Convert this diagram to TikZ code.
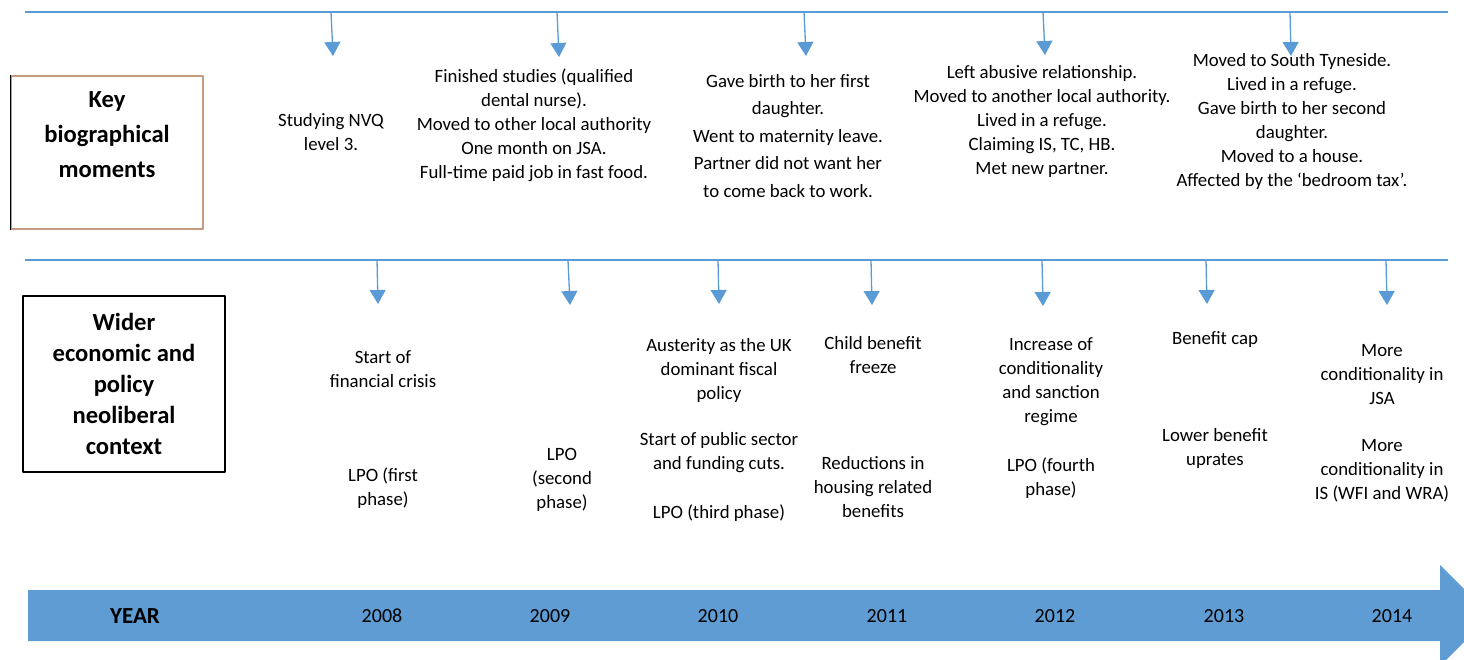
\documentclass[tikz,border=0pt]{standalone}
\usepackage{fontspec}
\setmainfont{Carlito}
\usepackage{tikz}
\usetikzlibrary{
  arrows.meta,  % Triangle tips on the drop arrows
  positioning   % relative placement
}
\definecolor{lineblue}{HTML}{5B9BD5}
\definecolor{bandblue}{HTML}{5E9CD3}
\definecolor{boxtan}{HTML}{C49A80}
\tikzset{
  timeline/.style={
    draw=lineblue,
    line width=1.3pt
  },
  drop arrow/.style={
    -{Triangle[width=16pt,length=14pt]},
    draw=lineblue,
    line width=1.3pt
  },
  event text/.style={
    align=center,
    inner sep=0pt,
    font=\fontsize{18.8}{24}\selectfont
  },
  head box/.style={
    draw,
    line width=1.2pt,
    align=center,
    inner sep=0pt,
    font=\fontsize{24.6}{35}\selectfont\bfseries
  },
  year label/.style={
    inner sep=0pt,
    font=\fontsize{20}{24}\selectfont
  }
}

\begin{document}
\begin{tikzpicture}[x=1pt, y=-1pt, line join=round]
  \useasboundingbox (0,0) rectangle (1464,660);
  \clip (0,0) rectangle (1464,660);

  % ===================================
  % Two timelines
  % ===================================
  \coordinate (bioL) at (25,12);
  \coordinate (bioR) at (1448,12);
  \coordinate (polL) at (25,260);
  \coordinate (polR) at (1448,260);
  \draw[timeline] (bioL) -- (bioR);
  \draw[timeline] (polL) -- (polR);

  % drop arrows: start x / tip x / tip y
  \foreach \xa/\xb/\yb [count=\i] in {331/333/56, 557/559/57, 804/806/56, 1043/1045/55, 1290/1291/56} {
    \coordinate (bio\i s) at (\xa,12);
    \coordinate (bio\i t) at (\xb,\yb);
    \draw[drop arrow] (bio\i s) -- (bio\i t);
  }
  \foreach \xa/\xb/\yb [count=\i] in {377/378/304, 568/570/305, 718/719/304, 871/872/305, 1042/1043/306, 1206/1207/304, 1386/1387/305} {
    \coordinate (pol\i s) at (\xa,260);
    \coordinate (pol\i t) at (\xb,\yb);
    \draw[drop arrow] (pol\i s) -- (pol\i t);
  }

  % ===================================
  % Row headings
  % ===================================
  \node[head box, draw=boxtan, minimum width=192pt, minimum height=153pt] (keybox) at (107,152.5) {Key\\biographical\\moments\\\mbox{}};
  \draw[line width=1.2pt] (keybox.south west) -- (keybox.north west);
  \node[head box, minimum width=202pt, minimum height=176pt, font=\fontsize{24.6}{31}\selectfont\bfseries] (ctxbox) at (124,384) {Wider\\economic and\\policy\\neoliberal\\context};

  % ===================================
  % Key biographical moments
  % ===================================
  \node[event text] (ev2008) at (331,132) {Studying NVQ\\level 3.};
  \node[event text] (ev2009) at (534,125.5) {Finished studies (qualified\\dental nurse).\\Moved to other local authority\\One month on JSA.\\Full-time paid job in fast food.};
  \node[event text, font=\fontsize{18.8}{27.5}\selectfont] (ev2010) at (788,136) {Gave birth to her first\\daughter.\\Went to maternity leave.\\Partner did not want her\\to come back to work.};
  \node[event text] (ev2012) at (1042,121.5) {Left abusive relationship.\\Moved to another local authority.\\Lived in a refuge.\\Claiming IS, TC, HB.\\Met new partner.};
  \node[event text] (ev2013) at (1292,121) {Moved to South Tyneside.\\Lived in a refuge.\\Gave birth to her second\\daughter.\\Moved to a house.\\Affected by the ‘bedroom tax’.};

  % ===================================
  % Wider economic and policy context
  % ===================================
  \node[event text] (pol2008a) at (383,369) {Start of\\financial crisis};
  \node[event text] (pol2008b) at (383,488) {LPO (first\\phase)};
  \node[event text] (pol2009) at (562,480) {LPO\\(second\\phase)};
  \node[event text] (pol2010a) at (719,370) {Austerity as the UK\\dominant fiscal\\policy};
  \node[event text] (pol2010b) at (719,453) {Start of public sector\\and funding cuts.};
  \node[event text] (pol2010c) at (719,513) {LPO (third phase)};
  \node[event text] (pol2011a) at (873,355.5) {Child benefit\\freeze};
  \node[event text] (pol2011b) at (873,487.5) {Reductions in\\housing related\\benefits};
  \node[event text] (pol2012a) at (1051,382) {Increase of\\conditionality\\and sanction\\regime};
  \node[event text] (pol2012b) at (1051,478) {LPO (fourth\\phase)};
  \node[event text] (pol2013a) at (1215,340) {Benefit cap};
  \node[event text] (pol2013b) at (1215,448.5) {Lower benefit\\uprates};
  \node[event text] (pol2014a) at (1382,374.5) {More\\conditionality in\\JSA};
  \node[event text] (pol2014b) at (1382,470.5) {More\\conditionality in\\IS (WFI and WRA)};

  % ===================================
  % Year band (block arrow, tip runs off the page)
  % ===================================
  \fill[bandblue] (28,590) -- (1440,590) -- (1440,565) -- (1490.5,615.5)
    -- (1440,666) -- (1440,641) -- (28,641) -- cycle;
  \node[year label, font=\fontsize{23}{24}\selectfont\bfseries] (yearlbl) at (135,616) {YEAR};
  \foreach \yr/\x in {2008/382, 2009/550, 2010/718, 2011/887, 2012/1055, 2013/1224, 2014/1392} {
    \node[year label] (yr\yr) at (\x,616) {\yr};
  }

\end{tikzpicture}
\end{document}
